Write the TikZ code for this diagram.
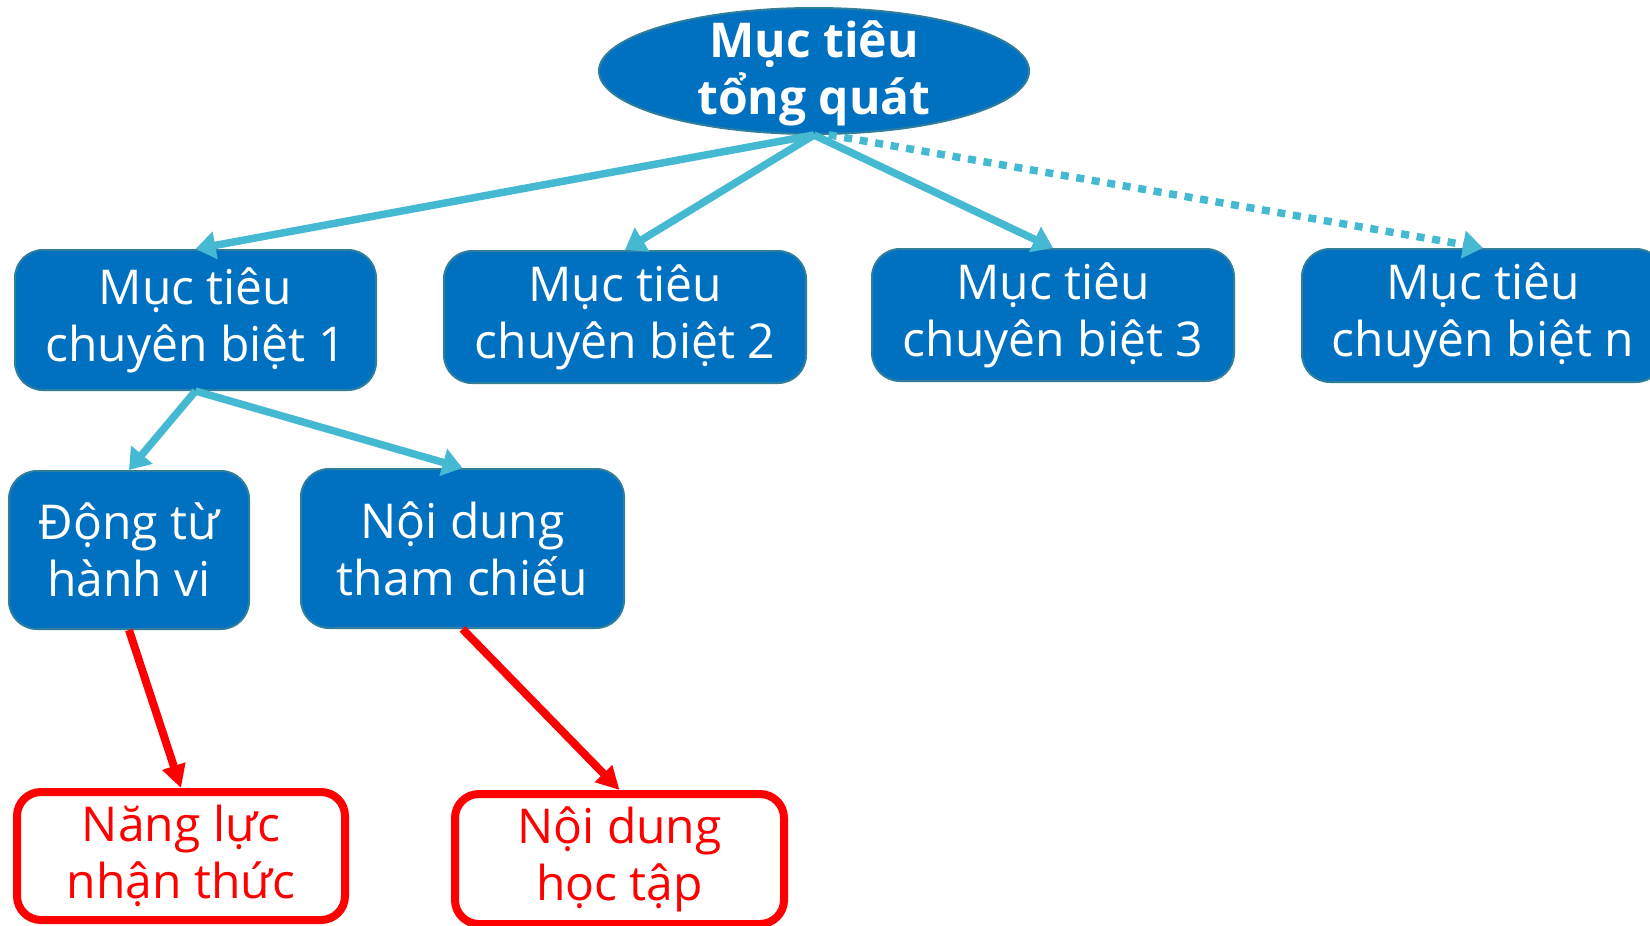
\documentclass[tikz,border=0pt]{standalone}
\usepackage{fontspec}
\setmainfont{Open Sans}
\usetikzlibrary{arrows.meta,shapes.geometric}
\definecolor{boxblue}{HTML}{0070C0}
\definecolor{boxedge}{HTML}{2F7E9B}
\definecolor{arrowcyan}{HTML}{45B9D2}
\definecolor{redc}{HTML}{FF0000}
\begin{document}
\begin{tikzpicture}[x=1pt,y=-1pt,
  txt/.style={align=center, inner sep=0pt, font=\fontsize{48}{57}\selectfont},
  bluebox/.style={txt, draw=boxedge, line width=2pt, fill=boxblue, rounded corners=28pt, text=white},
  redbox/.style={txt, draw=redc, line width=8pt, fill=white, rounded corners=24pt, text=redc},
  carrow/.style={draw=arrowcyan, line width=7.5pt, -{Triangle[length=20pt,width=27pt]}},
  darrow/.style={carrow, dash pattern=on 8pt off 7.7pt},
  rarrow/.style={draw=redc, line width=8pt, -{Triangle[length=23pt,width=23pt]}}
]
\useasboundingbox (0,0) rectangle (1650,926);
\node[ellipse, draw=boxedge, line width=2pt, fill=boxblue, minimum width=430pt, minimum height=126pt, inner sep=0pt] (top) at (814,71) {};
\node[txt, text=white, font=\bfseries\fontsize{48}{57}\selectfont] (toplabel) at (814,73) {Mục tiêu\\tổng quát};
\node[bluebox, minimum width=361pt, minimum height=140pt] (b1) at (195.5,320) {Mục tiêu\\chuyên biệt 1};
\node[bluebox, minimum width=362pt, minimum height=132pt] (b2) at (625,317) {Mục tiêu\\chuyên biệt 2};
\node[bluebox, minimum width=362pt, minimum height=132pt] (b3) at (1053,315) {Mục tiêu\\chuyên biệt 3};
\node[bluebox, minimum width=362pt, minimum height=133pt] (bn) at (1483,315.5) {Mục tiêu\\chuyên biệt n};
\node[bluebox, minimum width=240pt, minimum height=158pt] (v) at (129,550) {Động từ\\hành vi};
\node[bluebox, minimum width=323pt, minimum height=159pt] (c) at (462.5,548.5) {Nội dung\\tham chiếu};
\node[redbox, minimum width=328pt, minimum height=128pt] (r1) at (181,856) {Năng lực\\nhận thức};
\node[redbox, minimum width=329pt, minimum height=130pt] (r2) at (619.5,859) {Nội dung\\học tập};
\draw[carrow] (top.south) -- (b1.north);
\draw[carrow] (top.south) -- (b2.north);
\draw[carrow] (top.south) -- (b3.north);
\draw[darrow] (top.-77) -- (bn.north);
\draw[carrow] (b1.south) -- (v.north);
\draw[carrow] (b1.south) -- (c.north);
\draw[rarrow] (v.south) -- (r1.north);
\draw[rarrow] (c.south) -- (r2.north);
\end{tikzpicture}
\end{document}
